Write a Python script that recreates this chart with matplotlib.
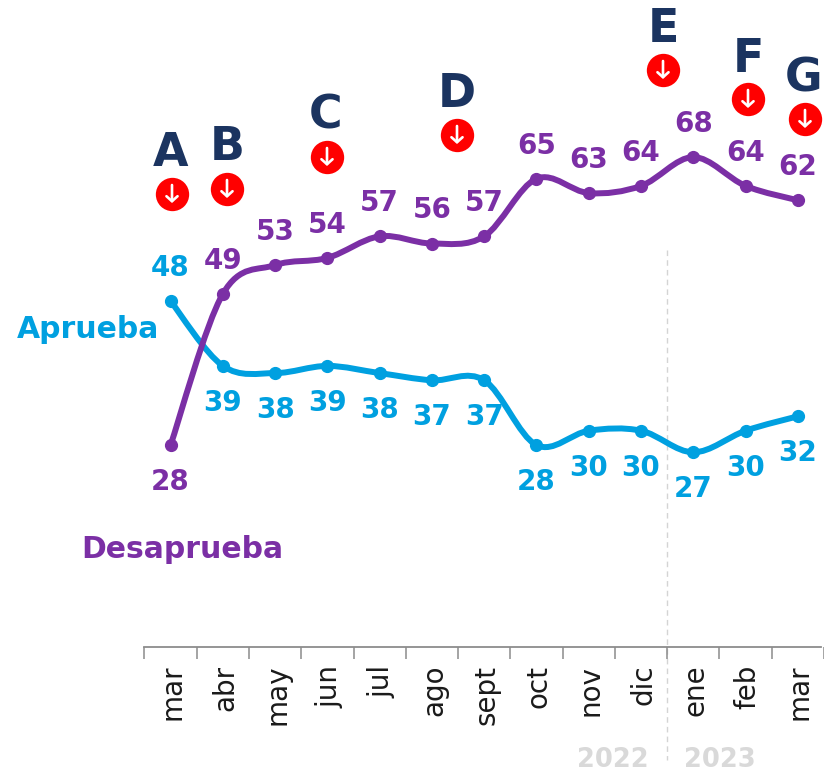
import matplotlib
matplotlib.use("Agg")
import matplotlib.pyplot as plt
import numpy as np
from matplotlib.path import Path
from matplotlib.patches import PathPatch
from matplotlib.transforms import ScaledTranslation

plt.rcParams["font.family"] = ["DejaVu Sans"]

MONTHS = ["mar", "abr", "may", "jun", "jul", "ago", "sept", "oct", "nov", "dic", "ene", "feb", "mar"]
APRUEBA = [48, 39, 38, 39, 38, 37, 37, 28, 30, 30, 27, 30, 32]
DESAPRUEBA = [28, 49, 53, 54, 57, 56, 57, 65, 63, 64, 68, 64, 62]
EVENTS = ["A", "B", "C", "D", "E", "F", "G"]
YEARS = ["2022", "2023"]

BLUE = "#00A0E0"
PURPLE = "#7B2FA5"
NAVY = "#1B3460"
RED = "#FF0000"
GREY = "#D9D9D9"

# ── Layout, in pixels of the 824x773 picture ──────────────────────────────────
W, H = 824, 773
EVENT_LETTER_XY = [(171, 154), (227, 148), (326, 116), (457, 95), (663, 30), (748, 60), (804, 79)]
EVENT_CIRCLE_XY = [(172, 194), (227, 189), (327, 157), (457, 135), (663, 70), (748, 99), (805, 119)]
YEAR_XY = [(613, 760), (720, 760)]
# label side per point: +1 above the line, -1 below
APRUEBA_SIDE = [1] + [-1] * 12
DESAPRUEBA_SIDE = [-1] + [1] * 12


def smooth_path(xs, ys, k=1 / 6):
    # Catmull-Rom through the points, as bezier segments
    pts = np.column_stack([xs, ys]).astype(float)
    verts = [pts[0]]
    codes = [Path.MOVETO]
    for i in range(len(pts) - 1):
        p0 = pts[max(i - 1, 0)]
        p1 = pts[i]
        p2 = pts[i + 1]
        p3 = pts[min(i + 2, len(pts) - 1)]
        verts += [p1 + (p2 - p0) * k, p2 - (p3 - p1) * k, p2]
        codes += [Path.CURVE4, Path.CURVE4, Path.CURVE4]
    return Path(verts, codes)


fig = plt.figure(figsize=(W / 100, H / 100), dpi=100)
ax = fig.add_axes([0, 0, 1, 1])

# full-figure axes: 52.46 px per month, 7.2 px per point, baseline at 0
x = np.arange(len(MONTHS))
ax.set_xlim(-171.2 / 52.46, (W - 171.2) / 52.46)
ax.set_ylim(-(H - 646.7) / 7.2, 646.7 / 7.2)
to_data = lambda px, py: ax.transData.inverted().transform(ax.transAxes.transform((px / W, 1 - py / H)))

for s in ["top", "left", "right"]:
    ax.spines[s].set_visible(False)
ax.spines["bottom"].set_position(("data", 0))
ax.spines["bottom"].set_color("#8C8C8C")
ax.spines["bottom"].set_linewidth(1.3)
ax.spines["bottom"].set_bounds(-0.5, 12.45)
ax.yaxis.set_visible(False)
ax.set_xticks(x, MONTHS, rotation=90, fontsize=20, color="#1a1a1a", ha="center", va="top")
ax.set_xticks(np.append(x - 0.5, 12.5), minor=True)
ax.tick_params(axis="x", which="major", length=0, pad=13)
ax.tick_params(axis="x", which="minor", length=8.5, width=1.1, color="#8C8C8C", direction="out")
shift = ScaledTranslation(1.5 / 72, 0, fig.dpi_scale_trans)
for label in ax.get_xticklabels():
    label.set_transform(label.get_transform() + shift)

# 2022 / 2023 divider
x0, y0 = to_data(667.5, 250)
_, y1 = to_data(667.5, 760)
ax.plot([x0, x0], [y0, y1], color="#D4D4D4", lw=1, ls=(0, (4, 3)), zorder=1)
for year, (px, py) in zip(YEARS, YEAR_XY):
    tx, ty = to_data(px, py)
    ax.text(tx, ty, year, color=GREY, fontsize=18.5, fontweight="bold", ha="center", va="center")

# series
for values, sides, color in [(APRUEBA, APRUEBA_SIDE, BLUE), (DESAPRUEBA, DESAPRUEBA_SIDE, PURPLE)]:
    ax.add_patch(PathPatch(smooth_path(x, values), fc="none", ec=color, lw=4.3, capstyle="round", zorder=3))
    ax.plot(x, values, ls="none", marker="o", ms=8.5, color=color, zorder=4)
    for xi, v, side in zip(x, values, sides):
        off = 33 if side > 0 else -37
        ax.annotate(str(v), (xi, v), xytext=(0, off * 0.72), textcoords="offset points",
                    color=color, fontsize=20, fontweight="bold", ha="center", va="center", zorder=5)

tx, ty = to_data(88, 330)
ax.text(tx, ty, "Aprueba", color=BLUE, fontsize=21.5, fontweight="bold", ha="center", va="center")
tx, ty = to_data(182, 549)
ax.text(tx, ty, "Desaprueba", color=PURPLE, fontsize=21.5, fontweight="bold", ha="center", va="center")

# event markers
for letter, (lx, ly), (cx, cy) in zip(EVENTS, EVENT_LETTER_XY, EVENT_CIRCLE_XY):
    tx, ty = to_data(lx, ly)
    ax.text(tx, ty, letter, color=NAVY, fontsize=33, fontweight="bold", ha="center", va="center")
    cdx, cdy = to_data(cx, cy)
    ax.plot([cdx], [cdy], marker="o", ms=24, color=RED, mew=0, ls="none", zorder=5)
    top = to_data(cx, cy - 9)
    tip = to_data(cx, cy + 9)
    ax.annotate("", xy=tip, xytext=top, zorder=6,
                arrowprops=dict(arrowstyle="->,head_length=0.36,head_width=0.4", color="white",
                                lw=1.9, shrinkA=0, shrinkB=0))

fig.savefig("out.png", dpi=100)
